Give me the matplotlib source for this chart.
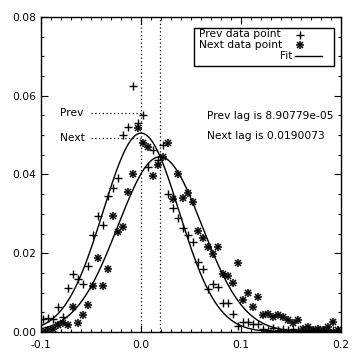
import matplotlib.pyplot as plt
import numpy as np
from matplotlib.ticker import MultipleLocator

# lag values
lags = np.round(np.arange(-0.098, 0.198, 0.005), 4)

prev_vals = [0.0032, 0.0036, 0.0032, 0.0064, 0.0039, 0.0113, 0.0147, 0.0134, 0.0121, 0.0168,
             0.0246, 0.0295, 0.0273, 0.0345, 0.0365, 0.0392, 0.0500, 0.0521, 0.0625, 0.0532,
             0.0551, 0.0420, 0.0462, 0.0437, 0.0475, 0.0350, 0.0314, 0.0289, 0.0263, 0.0246,
             0.0229, 0.0177, 0.0159, 0.0108, 0.0121, 0.0115, 0.0073, 0.0073, 0.0047, 0.0015,
             0.0026, 0.0026, 0.0020, 0.0020, 0.0008, 0.0005, 0.0010, 0.0006, 0.0008, 0.0005,
             0.0007, 0.0004, 0.0006, 0.0005, 0.0004, 0.0006, 0.0005, 0.0004, 0.0005, 0.0004]

next_vals = [0.0001, 0.0005, 0.0007, 0.0018, 0.0022, 0.0018, 0.0064, 0.0022, 0.0043, 0.0069,
             0.0117, 0.0189, 0.0117, 0.0159, 0.0295, 0.0255, 0.0267, 0.0356, 0.0400, 0.0519,
             0.0479, 0.0470, 0.0397, 0.0423, 0.0445, 0.0480, 0.0337, 0.0400, 0.0340, 0.0354,
             0.0329, 0.0256, 0.0238, 0.0215, 0.0197, 0.0215, 0.0147, 0.0142, 0.0125, 0.0176,
             0.0081, 0.0100, 0.0064, 0.0090, 0.0043, 0.0047, 0.0039, 0.0043, 0.0039, 0.0030,
             0.0022, 0.0030, 0.0008, 0.0013, 0.0005, 0.0008, 0.0005, 0.0013, 0.0026, 0.0005]

# gaussian fit parameters: amplitude, centre, width
prev_fit = (0.0505, 8.90779e-05, 0.038)
next_fit = (0.0445, 0.0190073, 0.042)
prev_line_y = 0.0557
next_line_y = 0.0493

plt.rcParams['font.family'] = 'DejaVu Sans'
plt.rcParams['font.size'] = 7.7

fig = plt.figure(figsize=(3.64, 3.61), dpi=100)
ax = fig.add_axes([0.1126, 0.0803, 0.8242, 0.8727])


def star(x, y):
    # IDL style asterisk = plus + cross
    ax.plot(x, y, ls='none', marker='+', ms=6, mew=1.1, color='black')
    ax.plot(x, y, ls='none', marker='x', ms=4.5, mew=1.1, color='black')


ax.plot(lags, prev_vals, ls='none', marker='+', ms=6, mew=1.0, color='black')
star(lags, next_vals)

xf = np.linspace(-0.1, 0.2, 400)
for a, c, s in (prev_fit, next_fit):
    ax.plot(xf, a * np.exp(-(xf - c) ** 2 / (2 * s ** 2)), color='black', lw=1.0)

# lag markers
dot = dict(color='black', lw=0.9, dashes=(1, 2))
ax.axvline(prev_fit[1], **dot)
ax.axvline(next_fit[1], **dot)
ax.plot([-0.05, prev_fit[1]], [prev_line_y, prev_line_y], **dot)
ax.plot([-0.05, prev_fit[1]], [next_line_y, next_line_y], **dot)
ax.text(-0.081, prev_line_y, 'Prev', ha='left', va='center')
ax.text(-0.081, next_line_y, 'Next', ha='left', va='center')

ax.text(0.066, 0.0549, 'Prev lag is 8.90779e-05', ha='left', va='center')
ax.text(0.066, 0.0498, 'Next lag is 0.0190073', ha='left', va='center')

# legend box
ax.add_patch(plt.Rectangle((0.0535, 0.0676), 0.1395, 0.0097, fill=False, lw=1.0,
                           color='black'))
ax.text(0.058, 0.0756, 'Prev data point', ha='left', va='center')
ax.text(0.058, 0.0729, 'Next data point', ha='left', va='center')
ax.text(0.1515, 0.0702, 'Fit', ha='right', va='center')
ax.plot([0.159], [0.0754], marker='+', ms=6, mew=1.0, color='black')
star([0.159], [0.0728])
ax.plot([0.154, 0.181], [0.0701, 0.0701], color='black', lw=1.0)

ax.set_xlim(-0.1, 0.2)
ax.set_ylim(0.0, 0.08)
ax.xaxis.set_major_locator(MultipleLocator(0.1))
ax.xaxis.set_minor_locator(MultipleLocator(0.01))
ax.yaxis.set_major_locator(MultipleLocator(0.02))
ax.yaxis.set_minor_locator(MultipleLocator(0.005))
ax.xaxis.set_major_formatter(plt.FuncFormatter(lambda v, p: '%.1f' % v))
ax.yaxis.set_major_formatter(plt.FuncFormatter(lambda v, p: '%.2f' % v))
ax.tick_params(which='both', direction='in', top=True, right=True, width=0.8)
ax.tick_params(which='major', length=5)
ax.tick_params(which='minor', length=2.5)
ax.tick_params(axis='x', pad=6)
for sp in ax.spines.values():
    sp.set_linewidth(1.0)

fig.savefig('out.png', dpi=100)
